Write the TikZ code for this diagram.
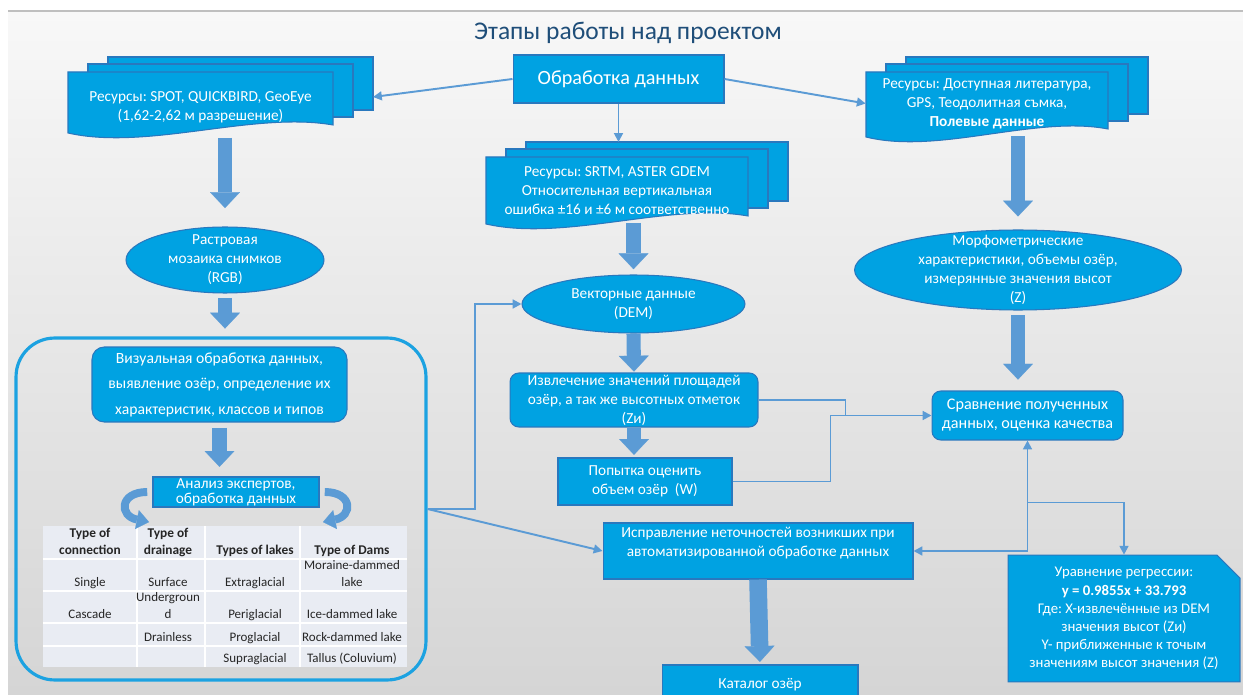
\documentclass[tikz,border=0pt]{standalone}
\usepackage{fontspec}
\setmainfont{Carlito}
\usetikzlibrary{arrows.meta, shapes.geometric, shapes.misc}
\frenchspacing

\definecolor{boxblue}{RGB}{0,162,226}
\definecolor{boxline}{RGB}{41,120,190}
\definecolor{arrowblue}{RGB}{91,155,213}
\definecolor{framecyan}{RGB}{28,162,225}
\definecolor{titleblue}{RGB}{31,78,121}
\definecolor{cellfill}{RGB}{233,236,243}
\definecolor{bgtop}{RGB}{248,248,248}
\definecolor{bgbottom}{RGB}{213,213,213}

\begin{document}
\begin{tikzpicture}[
    x=0.02cm, y=-0.02cm, % 1 unit = 1 px of the slide, y runs down
    every node/.style={text=white, align=center, font=\fontsize{8.7}{10.8}\selectfont},
    flowbox/.style={rectangle, draw=boxline, fill=boxblue, line width=0.6pt, inner sep=0pt},
    roundbox/.style={flowbox, rounded corners=5pt},
    oval/.style={ellipse, draw=boxline, fill=boxblue, line width=0.6pt, inner sep=0pt},
    sheet/.style={draw=boxline, fill=boxblue, line width=0.6pt},
    bigarrow/.style={draw=arrowblue, line width=8pt, -{Triangle[width=17pt, length=9pt, line width=0.1pt]}},
    curvearrow/.style={draw=arrowblue, line width=4.5pt, -{Triangle[width=11pt, length=7pt, line width=0.1pt]}},
    conn/.style={draw=arrowblue, line width=1.1pt, -{Triangle[width=5pt, length=5pt]}},
    cell/.style={anchor=south, text=black!85, inner sep=0.5pt, text depth=0pt, font=\fontsize{7.4}{9.6}\selectfont},
    headcell/.style={cell, font=\fontsize{7.6}{9.6}\selectfont\bfseries},
    pics/sheets/.style 2 args={code={
        \filldraw[sheet] (40,-15) rectangle ++(#1,#2-8);
        \filldraw[sheet] (20,-8) rectangle ++(#1,#2-8);
        \filldraw[sheet] (0,0) -- (#1,0) -- (#1,#2-8)
          .. controls (0.7*#1,#2-22) and (0.3*#1,#2+18) .. (0,#2) -- cycle;
        \coordinate (-back) at (40+#1,25);
        \coordinate (-top) at (40+#1/2,-15);
    }}
  ]

  % slide background
  \useasboundingbox (0,0) rectangle (1243,695);
  \clip (0,0) rectangle (1243,695);
  \shade[top color=bgtop, bottom color=bgbottom] (8,11) rectangle (1243,695);
  \draw[black!25, line width=0.6pt] (8,11) -- (1243,11);

  % title and start
  \node[text=titleblue, font=\fontsize{14.5}{16}\selectfont] (title) at (628,33) {Этапы работы над проектом};
  \node[flowbox, minimum width=4.22cm, minimum height=0.96cm, font=\fontsize{11.5}{13}\selectfont] (proc) at (618.5,79) {Обработка данных};

  % resources
  \pic (resLs) at (68,72) {sheets={265}{61}};
  \pic (resMs) at (486,157) {sheets={262}{67}};
  \pic (resRs) at (866,72) {sheets={242}{65}};
  \node[minimum width=5.3cm, minimum height=1.22cm, inner sep=0pt] (resL) at (200.5,107)
    {Ресурсы: SPOT, QUICKBIRD, GeoEye\\(1,62-2,62 м разрешение)};
  \node[minimum width=5.24cm, minimum height=1.26cm, inner sep=0pt] (resM) at (617,191)
    {Ресурсы: SRTM, ASTER GDEM\\Относительная вертикальная\\ошибка ±16 и ±6 м соответственно};
  \node[minimum width=4.84cm, minimum height=1.3cm, inner sep=0pt] (resR) at (987,103.5)
    {Ресурсы: Доступная литература,\\GPS, Теодолитная съмка,\\\textbf{Полевые данные}};

  % left column
  \node[oval, minimum width=3.96cm, minimum height=1.32cm] (rastr) at (225,260) {};
  \node (rastr-t) at (rastr) {Растровая\\мозаика снимков\\(RGB)};
  \node[draw=framecyan, line width=1.8pt, rounded corners=22pt, minimum width=8.2cm, minimum height=6.84cm] (manual) at (221,509) {};
  \node[roundbox, rounded corners=7pt, minimum width=5.1cm, minimum height=1.5cm, font=\fontsize{8.9}{14.5}\selectfont] (visual) at (219.5,384.5)
    {Визуальная обработка данных,\\выявление озёр, определение их\\характеристик, классов и типов};
  \node[flowbox, minimum width=3.32cm, minimum height=0.6cm, font=\fontsize{8.7}{8.6}\selectfont] (expert) at (236,492)
    {Анализ экспертов,\\обработка данных};
  \coordinate (tblL) at (149,522);
  \coordinate (tblR) at (323,522);

  % table of lake types
  \fill[cellfill] (43,526) rectangle (407,667);
  \foreach \cx in {137,205,300}
    \draw[white, line width=1pt] (\cx,526) -- (\cx,667);
  \foreach \ry in {559,591,623,646}
    \draw[white, line width=1pt] (43,\ry) -- (407,\ry);
  \foreach \txt/\cx [count=\i] in {{Type of\\connection}/90, {Type of\\drainage}/168, {Types of lakes}/255, {Type of Dams}/352}
    \node[headcell] (head\i) at (\cx,556) {\txt};
  \foreach \txt/\cx/\ry [count=\i] in {Single/90/588, Surface/168/588, Extraglacial/255/588, {Moraine-dammed\\lake}/352/588,
      Cascade/90/620, {Undergroun\\d}/168/620, Periglacial/255/620, {Ice-dammed lake}/352/620,
      Drainless/168/643, Proglacial/255/643, {Rock-dammed lake}/352/643,
      Supraglacial/255/664, {Tallus (Coluvium)}/352/664}
    \node[cell] (cell\i) at (\cx,\ry) {\txt};

  % middle column
  \node[oval, minimum width=4.46cm, minimum height=1.16cm] (dem) at (633.5,304) {};
  \node (dem-t) at (dem) {Векторные данные\\(DEM)};
  \node[roundbox, minimum width=4.96cm, minimum height=1.08cm] (extr) at (634,400)
    {Извлечение значений площадей\\озёр, а так же высотных отметок\\(Zи)};
  \node[flowbox, minimum width=3.48cm, minimum height=0.94cm] (vol) at (645,481.5)
    {Попытка оценить\\объем озёр\ \ (W)};
  \node[flowbox, minimum width=6.2cm, minimum height=1.12cm] (ispr) at (758,551)
    {Исправление неточностей возникших при\\автоматизированной обработке данных\\\mbox{}};
  \node[flowbox, minimum width=3.92cm, minimum height=0.8cm] (catalog) at (760,685) {Каталог озёр};

  % right column
  \node[oval, minimum width=6.54cm, minimum height=1.6cm] (morph) at (1018,270) {};
  \node (morph-t) at (morph) {Морфометрические\\характеристики, объемы озёр,\\измерянные значения высот\\(Z)};
  \node[roundbox, minimum width=3.82cm, minimum height=0.98cm, font=\fontsize{9.2}{10.8}\selectfont] (sravn) at (1027.5,415.5)
    {Сравнение полученных\\данных, оценка качества};
  \node[flowbox, chamfered rectangle, chamfered rectangle corners=north east, chamfered rectangle xsep=6pt, chamfered rectangle ysep=7pt,
        minimum width=4.64cm, minimum height=2.14cm, font=\fontsize{8.4}{10.3}\selectfont] (regr) at (1124,618.5)
    {Уравнение регрессии:\\\textbf{y = 0.9855x + 33.793}\\Где: X-извлечённые из DEM\\значения высот (Zи)\\Y- приближенные к точым\\значениям высот значения (Z)};

  % thin connectors
  \draw[conn] (proc.west) -- (resLs-back);
  \draw[conn] (proc.east) -- (resR.west);
  \draw[conn] (proc) -- (proc |- resMs-top);
  \draw[conn] (manual.east) -- ++(47,0) |- (dem.west);
  \draw[conn] (manual.east) -- (ispr.west);
  \draw[conn, -] (extr.east) -- ++(87,0) -- ++(0,15.5);
  \draw[conn] (vol.east) -- ++(98,0) |- (sravn.west);
  \draw[conn, {Triangle[width=5pt, length=5pt]}-{Triangle[width=5pt, length=5pt]}] (ispr.east) -| (sravn.south);
  \draw[conn] (sravn.south) ++(0,62) -| (regr.north);

  % block arrows
  \draw[bigarrow, shorten >=10.5pt] (resL.south -| rastr.north) -- (rastr.north);
  \draw[bigarrow, shorten <=2.8pt, shorten >=4.5pt] (rastr.south) -- (rastr.south |- manual.north);
  \draw[bigarrow, shorten <=3pt, shorten >=5.5pt] (visual.south) -- (visual.south |- expert.north);
  \draw[curvearrow] ([xshift=-3pt]expert.west) .. controls +(-28,0) and +(-30,-6) .. (tblL);
  \draw[curvearrow] ([xshift=3pt]expert.east) .. controls +(28,0) and +(30,-6) .. (tblR);
  \draw[bigarrow, shorten >=3pt] (resM.south -| dem.north) -- (dem.north);
  \draw[bigarrow, shorten >=0.5pt] (dem.south) -- (extr.north);
  \draw[bigarrow, shorten >=1.5pt] (extr.south) -- (extr.south |- vol.north);
  \draw[bigarrow, line width=10pt, shorten >=1.5pt] (ispr.south) -- (catalog.north);
  \draw[bigarrow, shorten >=7.4pt] (resR.south -| morph.north) -- (morph.north);
  \draw[bigarrow, shorten <=2.8pt, shorten >=6.2pt] (morph.south) -- (morph.south |- sravn.north);

\end{tikzpicture}
\end{document}
